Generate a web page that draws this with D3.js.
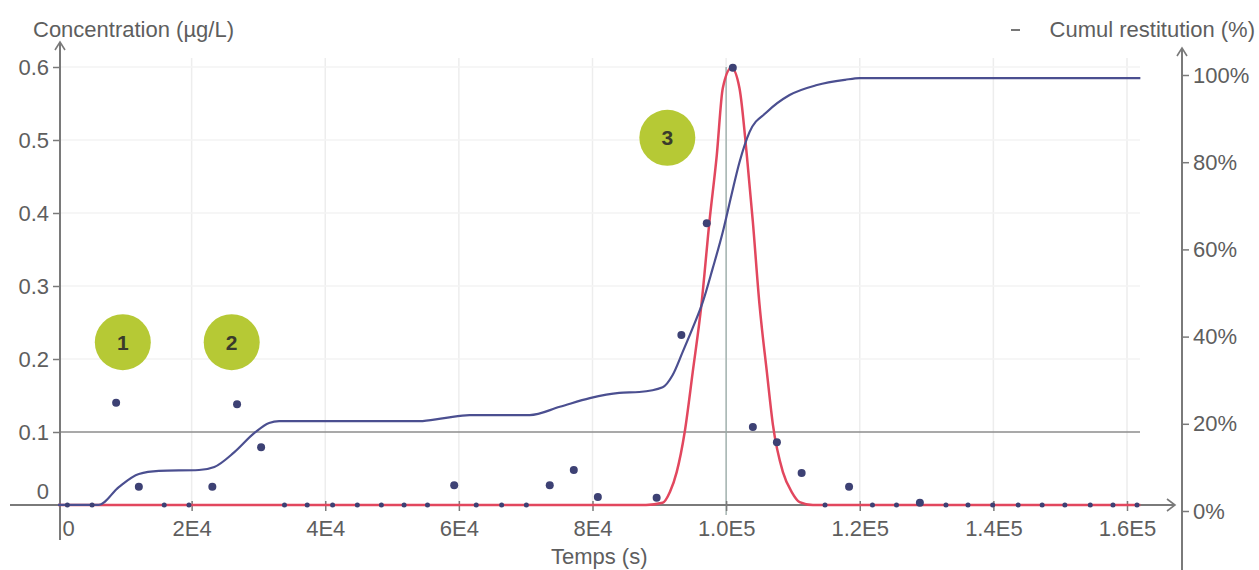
<!DOCTYPE html>
<html>
<head>
<meta charset="utf-8">
<script src="https://cdn.jsdelivr.net/npm/d3@7"></script>
<style>
  html, body { margin: 0; padding: 0; background: #ffffff; }
  svg { display: block; }
  text { font-family: "Liberation Sans", Arial, sans-serif; }
</style>
</head>
<body>
<svg id="chart" width="1259" height="570"></svg>
<script>
// ---------- DATA ----------
const xTickValues = [0, 20000, 40000, 60000, 80000, 100000, 120000, 140000, 160000];
const xTickLabels = ["0", "2E4", "4E4", "6E4", "8E4", "1.0E5", "1.2E5", "1.4E5", "1.6E5"];
const yTickValues = [0, 0.1, 0.2, 0.3, 0.4, 0.5, 0.6];
const yTickLabels = ["0", "0.1", "0.2", "0.3", "0.4", "0.5", "0.6"];
const rTickValues = [0, 20, 40, 60, 80, 100];
const rTickLabels = ["0%", "20%", "40%", "60%", "80%", "100%"];

// measured concentrations (dots)
const sampleTime = [1400, 5100, 8700, 12100, 15900, 19600, 23100, 26800, 30400, 33900,
  37300, 41100, 44800, 48400, 51800, 55300, 59300, 62600, 66400, 70100,
  73600, 77200, 80800, 89600, 93300, 97100, 101000, 104000, 107600, 111300,
  114800, 118400, 121900, 125500, 129000, 132900, 136200, 139900, 143700, 147300,
  150700, 154500, 157900, 161500];
const sampleConc = [0, 0, 0.140, 0.025, 0, 0, 0.025, 0.138, 0.079, 0,
  0, 0, 0, 0, 0, 0, 0.027, 0, 0, 0,
  0.027, 0.048, 0.011, 0.010, 0.233, 0.386, 0.599, 0.107, 0.086, 0.044,
  0, 0.025, 0, 0, 0.003, 0, 0, 0, 0, 0,
  0, 0, 0, 0];

// modelled concentration (red curve)
const modelTime = [0, 88000, 90500, 91600, 92600, 93800, 95000, 96300, 97500, 98600, 99500,
  100800, 102000, 103100, 104000, 105000, 106100, 107000, 108500, 109800, 111000, 113000, 162000];
const modelConc = [0, 0, 0.003, 0.018, 0.045, 0.10, 0.182, 0.274, 0.388, 0.479, 0.571,
  0.599, 0.571, 0.479, 0.388, 0.274, 0.182, 0.11, 0.045, 0.018, 0.004, 0, 0];

// cumulative restitution (blue curve, %)
const cumulTime = [0, 6100, 9100, 12100, 15100, 21100, 23400, 26400, 29400, 31600, 33100,
  54100, 57800, 61600, 70600, 75100, 79600, 84000, 87000, 90500, 92000, 93500, 95000,
  96500, 98000, 99500, 100800, 102000, 103500, 106100, 109500, 113600, 117800, 120000, 162000];
const cumulPct = [1.4, 1.4, 5.5, 8.5, 9.2, 9.4, 10.1, 13.5, 17.9, 20.2, 20.6,
  20.6, 21.3, 22.0, 22.0, 23.9, 25.9, 27.1, 27.3, 28.4, 31.2, 36.5, 42.0,
  47.9, 55.7, 64.0, 72.5, 80.0, 86.9, 91.5, 95.4, 97.7, 98.9, 99.3, 99.3];

// numbered badges (annotations)
const badgeLabels = ["1", "2", "3"];
const badgeTime = [9700, 26000, 91200];
const badgeConc = [0.223, 0.223, 0.503];

const thresholdConc = 0.1;
const peakTime = 100000;

// ---------- CHART ----------
const svg = d3.select("#chart");
const x = d3.scaleLinear().domain([0, 160000]).range([58, 1127]);
const y = d3.scaleLinear().domain([0, 0.6]).range([505, 67]);
const yR = d3.scaleLinear().domain([0, 100]).range([511, 75]);

const axisColor = "#7a7a7a";
const textColor = "#5e5e5e";
const fontSize = "22px";

// faint grid
svg.append("g").selectAll("line.vg").data(xTickValues.slice(1)).join("line")
  .attr("x1", d => x(d)).attr("x2", d => x(d))
  .attr("y1", 58).attr("y2", 505)
  .attr("stroke", "#ededed").attr("stroke-width", 1.5);
svg.append("g").selectAll("line.hg").data(yTickValues.slice(2)).join("line")
  .attr("x1", 60).attr("x2", 1140)
  .attr("y1", d => y(d)).attr("y2", d => y(d))
  .attr("stroke", "#f3f3f3").attr("stroke-width", 1.5);

// threshold line at 0.1
svg.append("line")
  .attr("x1", 60).attr("x2", 1140)
  .attr("y1", y(thresholdConc)).attr("y2", y(thresholdConc))
  .attr("stroke", "#8c8c8c").attr("stroke-width", 1.3);

// vertical peak marker at 1.0E5
svg.append("line")
  .attr("x1", x(peakTime)).attr("x2", x(peakTime))
  .attr("y1", y(0.6)).attr("y2", 515)
  .attr("stroke", "#98aaa6").attr("stroke-width", 1.3);

// axis lines with arrows
const axes = svg.append("g").attr("stroke", axisColor).attr("stroke-width", 2).attr("fill", "none");
axes.append("line").attr("x1", 10).attr("x2", 1175).attr("y1", y(0)).attr("y2", y(0));
axes.append("path").attr("d", `M1167,${y(0) - 6} L1175,${y(0)} L1167,${y(0) + 6}`).attr("stroke-width", 1.6);
axes.append("line").attr("x1", 60).attr("x2", 60).attr("y1", 42).attr("y2", 540);
axes.append("path").attr("d", "M55,50 L60,42 L65,50").attr("stroke-width", 1.6);
axes.append("line").attr("x1", 1182).attr("x2", 1182).attr("y1", 48).attr("y2", 570);
axes.append("path").attr("d", "M1177,56 L1182,48 L1187,56").attr("stroke-width", 1.6);

// bottom axis
const xAxis = d3.axisBottom(x).tickValues(xTickValues)
  .tickFormat((d, i) => xTickLabels[i]).tickSize(6).tickPadding(9);
const gx = svg.append("g").attr("transform", `translate(0,${y(0)})`).call(xAxis);
gx.select(".domain").remove();
gx.selectAll(".tick line").attr("y1", -4).attr("y2", 6).attr("stroke", axisColor).attr("stroke-width", 1.5);
gx.selectAll(".tick text").attr("fill", textColor).style("font-size", fontSize);
gx.selectAll(".tick").filter(d => d === 0).select("text").attr("text-anchor", "start").attr("x", 4);
gx.selectAll(".tick").filter(d => d === 0).select("line").remove();

// left axis
const yAxis = d3.axisLeft(y).tickValues(yTickValues)
  .tickFormat((d, i) => yTickLabels[i]).tickSize(7).tickPadding(4);
const gy = svg.append("g").attr("transform", "translate(60,0)").call(yAxis);
gy.select(".domain").remove();
gy.selectAll(".tick line").attr("stroke", axisColor).attr("stroke-width", 1.5);
gy.selectAll(".tick text").attr("fill", textColor).style("font-size", fontSize);
gy.selectAll(".tick").filter(d => d === 0).select("text").attr("y", -14);
gy.selectAll(".tick").filter(d => d === 0).select("line").remove();

// right axis
const rAxis = d3.axisRight(yR).tickValues(rTickValues)
  .tickFormat((d, i) => rTickLabels[i]).tickSize(7).tickPadding(4);
const gr = svg.append("g").attr("transform", "translate(1182,0)").call(rAxis);
gr.select(".domain").remove();
gr.selectAll(".tick line").attr("stroke", axisColor).attr("stroke-width", 1.5);
gr.selectAll(".tick text").attr("fill", textColor).style("font-size", fontSize);

// titles
svg.append("text").attr("x", 33).attr("y", 37).attr("fill", textColor)
  .style("font-size", fontSize).text("Concentration (µg/L)");
svg.append("line").attr("x1", 1011).attr("x2", 1020).attr("y1", 30).attr("y2", 30)
  .attr("stroke", "#777").attr("stroke-width", 2);
svg.append("text").attr("x", 1255).attr("y", 37).attr("text-anchor", "end").attr("fill", textColor)
  .style("font-size", fontSize).text("Cumul restitution (%)");
svg.append("text").attr("x", x(81000)).attr("y", 564).attr("text-anchor", "middle").attr("fill", textColor)
  .style("font-size", fontSize).text("Temps (s)");

// red model curve
const redLine = d3.line().x(i => x(modelTime[i])).y(i => y(modelConc[i])).curve(d3.curveMonotoneX);
svg.append("path").attr("d", redLine(d3.range(modelTime.length)))
  .attr("fill", "none").attr("stroke", "#e2475e").attr("stroke-width", 2.5);

// blue cumulative curve
const blueLine = d3.line().x(i => x(cumulTime[i])).y(i => yR(cumulPct[i])).curve(d3.curveMonotoneX);
svg.append("path").attr("d", blueLine(d3.range(cumulTime.length)))
  .attr("fill", "none").attr("stroke", "#4b4f90").attr("stroke-width", 2.2);

// dots
svg.append("g").selectAll("circle").data(d3.range(sampleTime.length)).join("circle")
  .attr("cx", i => x(sampleTime[i])).attr("cy", i => y(sampleConc[i]))
  .attr("r", i => sampleConc[i] === 0 ? 2.5 : 4)
  .attr("fill", "#3d4174");

// badges
const badges = svg.append("g").selectAll("g").data(d3.range(badgeLabels.length)).join("g")
  .attr("transform", i => `translate(${x(badgeTime[i])},${y(badgeConc[i])})`);
badges.append("circle").attr("r", 28).attr("fill", "#b6c935");
badges.append("text").attr("text-anchor", "middle").attr("dy", "0.36em")
  .attr("fill", "#3a3b2c").style("font-size", "21px").style("font-weight", "bold")
  .text(i => badgeLabels[i]);
</script>
</body>
</html>
